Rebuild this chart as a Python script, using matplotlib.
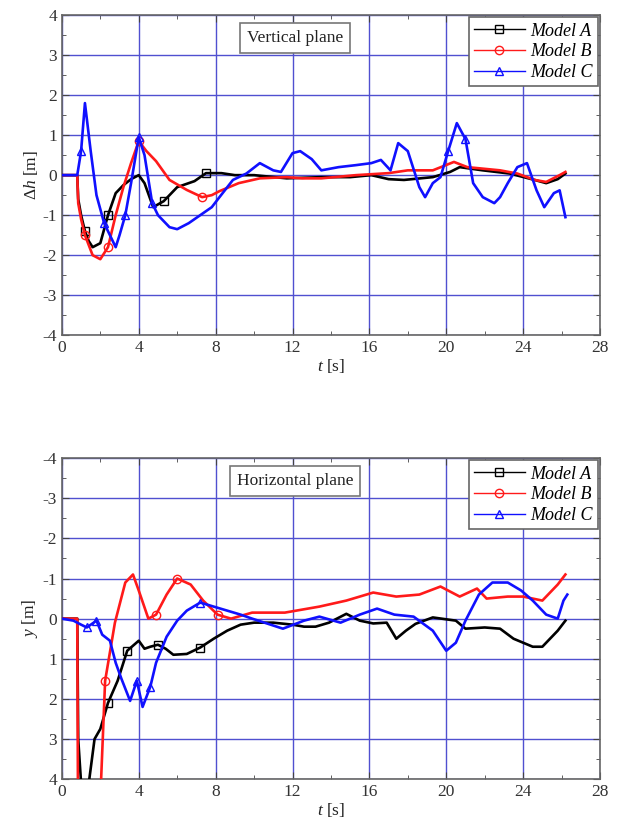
import numpy as np
import matplotlib
matplotlib.use("Agg")
import matplotlib.pyplot as plt
from matplotlib.lines import Line2D
from matplotlib.ticker import MultipleLocator

plt.rcParams['font.family'] = ['Liberation Serif', 'DejaVu Serif']
plt.rcParams['mathtext.fontset'] = 'custom'
plt.rcParams['mathtext.rm'] = 'Liberation Serif'
plt.rcParams['mathtext.it'] = 'Liberation Serif:italic'
plt.rcParams['axes.unicode_minus'] = False

# ---------------- Vertical plane (delta h) ----------------
tA_v = [0, 0.8, 0.85, 1.0, 1.2, 1.4, 1.6, 2.0, 2.4, 2.8, 3.2, 3.6, 4.0, 4.3, 4.75, 5.3, 6.0,
        6.9, 7.5, 8.3, 9.0, 10.0, 11.7, 13.5, 15.0, 16.1, 17.0, 17.8, 19.3, 20.2, 20.7, 21.9,
        23.3, 24.6, 25.2, 25.8, 26.2]
hA_v = [0, 0, -0.6, -1.0, -1.4, -1.65, -1.8, -1.7, -1.0, -0.45, -0.25, -0.1, 0.0, -0.2, -0.8,
        -0.65, -0.3, -0.15, 0.05, 0.05, 0.0, 0.0, -0.08, -0.05, -0.05, 0.0, -0.1, -0.12, -0.05,
        0.08, 0.2, 0.12, 0.04, -0.12, -0.2, -0.1, 0.04]

tB_v = [0, 0.8, 0.85, 1.0, 1.2, 1.6, 2.0, 2.4, 2.8, 3.2, 3.6, 4.0, 4.4, 4.9, 5.6, 6.5, 7.3,
        7.8, 8.2, 9.2, 10.3, 11.7, 12.5, 13.5, 15.3, 17.0, 18.0, 19.3, 20.4, 21.1, 22.8, 23.7,
        24.6, 25.2, 25.9, 26.2]
hB_v = [0, 0, -0.7, -1.1, -1.5, -2.0, -2.1, -1.8, -1.0, -0.3, 0.3, 0.85, 0.6, 0.35, -0.12,
        -0.37, -0.55, -0.5, -0.4, -0.2, -0.08, -0.05, -0.08, -0.08, 0.0, 0.05, 0.12, 0.12,
        0.33, 0.2, 0.12, 0.04, -0.12, -0.17, 0.0, 0.08]

tC_v = [0, 0.8, 1.0, 1.2, 1.5, 1.8, 2.2, 2.6, 2.8, 3.0, 3.3, 3.6, 4.0, 4.3, 4.7, 5.0, 5.6, 6.0,
        6.6, 7.2, 7.8, 8.2, 8.9, 9.6, 10.3, 11.0, 11.4, 12.0, 12.4, 13.0, 13.5, 14.4, 15.3,
        16.1, 16.6, 17.1, 17.5, 18.0, 18.6, 18.9, 19.3, 19.7, 20.1, 20.55, 21.0, 21.4, 21.9,
        22.5, 22.8, 23.2, 23.7, 24.2, 24.7, 25.1, 25.6, 25.9, 26.2]
hC_v = [0, 0, 0.6, 1.8, 0.6, -0.5, -1.2, -1.6, -1.8, -1.5, -1.0, -0.2, 0.95, 0.5, -0.7, -1.0,
        -1.3, -1.35, -1.2, -1.0, -0.8, -0.55, -0.12, 0.04, 0.3, 0.12, 0.08, 0.55, 0.6, 0.4,
        0.12, 0.2, 0.25, 0.3, 0.38, 0.12, 0.8, 0.6, -0.3, -0.55, -0.2, -0.05, 0.6, 1.3, 0.9,
        -0.2, -0.55, -0.7, -0.55, -0.2, 0.2, 0.3, -0.38, -0.8, -0.45, -0.38, -1.05]

# ---------------- Horizontal plane (y) ----------------
tA_h = [0, 0.8, 0.85, 1.0, 1.2, 1.4, 1.7, 2.0, 2.4, 2.9, 3.4, 4.0, 4.3, 4.6, 5.0, 5.4, 5.8,
        6.5, 7.2, 7.9, 8.6, 9.3, 10.0, 11.0, 12.0, 12.6, 13.2, 13.9, 14.8, 15.5, 16.2, 16.9,
        17.4, 17.9, 18.4, 19.3, 20.5, 21.0, 22.0, 22.8, 23.5, 24.5, 25.0, 25.8, 26.2]
yA_h = [0, 0, 3.0, 4.1, 4.4, 4.1, 3.0, 2.75, 2.1, 1.55, 0.8, 0.55, 0.75, 0.7, 0.65, 0.75, 0.9,
        0.88, 0.72, 0.5, 0.3, 0.15, 0.1, 0.1, 0.15, 0.2, 0.2, 0.1, -0.12, 0.05, 0.12, 0.1,
        0.5, 0.3, 0.13, -0.03, 0.05, 0.25, 0.22, 0.25, 0.5, 0.7, 0.7, 0.3, 0.05]

tB_h = [0, 0.8, 0.85, 2.0, 2.25, 2.76, 3.3, 3.7, 4.0, 4.5, 4.9, 5.45, 6.0, 6.7, 7.35, 8.1,
        8.8, 9.9, 11.6, 13.4, 14.8, 16.2, 17.4, 18.6, 19.7, 20.7, 21.6, 22.1, 23.2, 24.0,
        25.0, 25.8, 26.2]
yB_h = [0, 0, 6.0, 4.5, 1.55, 0.1, -0.9, -1.1, -0.7, 0.0, -0.1, -0.6, -1.0, -0.85, -0.45,
        -0.1, 0.0, -0.15, -0.15, -0.3, -0.45, -0.65, -0.55, -0.6, -0.8, -0.55, -0.75, -0.5,
        -0.55, -0.55, -0.45, -0.85, -1.1]

tC_h = [0, 0.6, 1.0, 1.3, 1.8, 2.1, 2.5, 2.8, 3.1, 3.55, 3.9, 4.2, 4.6, 4.9, 5.45, 6.0, 6.5,
        7.2, 7.9, 8.6, 9.3, 9.9, 11.5, 12.6, 13.4, 14.5, 15.5, 16.4, 17.3, 18.3, 19.3, 20.0,
        20.5, 21.0, 21.7, 22.4, 23.2, 23.9, 24.5, 25.2, 25.8, 26.1, 26.3]
yC_h = [0, 0.05, 0.15, 0.22, 0.05, 0.4, 0.55, 1.1, 1.5, 2.05, 1.55, 2.2, 1.7, 1.1, 0.45, 0.05,
        -0.2, -0.4, -0.3, -0.2, -0.1, 0.0, 0.25, 0.05, -0.05, 0.1, -0.1, -0.25, -0.1, -0.05,
        0.3, 0.8, 0.6, 0.05, -0.6, -0.9, -0.9, -0.7, -0.45, -0.1, 0.0, -0.45, -0.6]

# marker times (where the open symbols are drawn)
mA_v = [1.2, 2.4, 5.3, 7.5]
mB_v = [1.2, 2.4, 4.0, 7.3]
mC_v = [1.0, 2.2, 3.3, 4.0, 4.7, 20.1, 21.0]
mA_h = [2.4, 3.4, 5.0, 7.2]
mB_h = [2.25, 4.9, 6.0, 8.1]
mC_h = [1.3, 1.8, 3.9, 4.6, 7.2]

labels = ['Model A', 'Model B', 'Model C']
colors = ['black', '#ff1a1a', '#1010ff']
markers = ['s', 'o', '^']

x_ticks = [0, 4, 8, 12, 16, 20, 24, 28]
y_ticks = [-4, -3, -2, -1, 0, 1, 2, 3, 4]


def idx_for(t, mt):
    t = np.asarray(t)
    return sorted({int(np.argmin(np.abs(t - m))) for m in mt})


fig = plt.figure(figsize=(6.25, 8.36), dpi=100)
ax1 = fig.add_axes([0.099, 0.599, 0.861, 0.383])
ax2 = fig.add_axes([0.099, 0.068, 0.861, 0.384])

series_v = [(tA_v, hA_v, mA_v), (tB_v, hB_v, mB_v), (tC_v, hC_v, mC_v)]
series_h = [(tA_h, yA_h, mA_h), (tB_h, yB_h, mB_h), (tC_h, yC_h, mC_h)]

for ax, series, title, ylab, inv in [
        (ax1, series_v, 'Vertical plane', r'$\Delta h$ [m]', False),
        (ax2, series_h, 'Horizontal plane', r'$y$ [m]', True)]:
    for (t, v, mt), c, m in zip(series, colors, markers):
        ax.plot(t, v, color=c, lw=1.9, marker=m, markevery=idx_for(t, mt),
                mfc='none', mec=c, ms=6, mew=1.0, zorder=3)
    ax.set_xlim(0, 28)
    if inv:
        ax.set_ylim(4, -4)
    else:
        ax.set_ylim(-4, 4)
    ax.set_xticks(x_ticks)
    ax.set_yticks(y_ticks)
    ax.xaxis.set_minor_locator(MultipleLocator(2))
    ax.yaxis.set_minor_locator(MultipleLocator(0.5))
    ax.grid(True, which='major', color='#5050d0', lw=1.0)
    ax.tick_params(which='both', direction='in', top=True, right=True,
                   labelsize=12.5, colors='#444444', labelcolor='#333333')
    ax.tick_params(which='major', length=5)
    ax.tick_params(which='minor', length=3)
    for s in ax.spines.values():
        s.set_color('#666666')
        s.set_linewidth(1.2)
    ax.set_xlabel(r'$t$ [s]', fontsize=12.5, labelpad=1, color='#222222')
    ax.set_ylabel(ylab, fontsize=12.5, labelpad=2, color='#222222')
    ax.text(0.433, 0.928, title, transform=ax.transAxes, ha='center', va='center',
            fontsize=12.5, color='#222222',
            bbox=dict(boxstyle='square,pad=0.4', fc='white', ec='#777777', lw=1.2),
            zorder=5)
    handles = [Line2D([0], [0], color=c, lw=1.0, marker=m, mfc='none', mec=c, ms=6)
               for c, m in zip(colors, markers)]
    leg = ax.legend(handles, labels, loc='upper right',
                    prop={'style': 'italic', 'size': 13}, handlelength=2.8,
                    handletextpad=0.3, borderpad=0.3, labelspacing=0.2,
                    borderaxespad=0.12, fancybox=False, framealpha=1,
                    edgecolor='#666666')
    leg.get_frame().set_linewidth(1.2)
    leg.set_zorder(6)

fig.savefig('out.png', dpi=100, facecolor='white')
